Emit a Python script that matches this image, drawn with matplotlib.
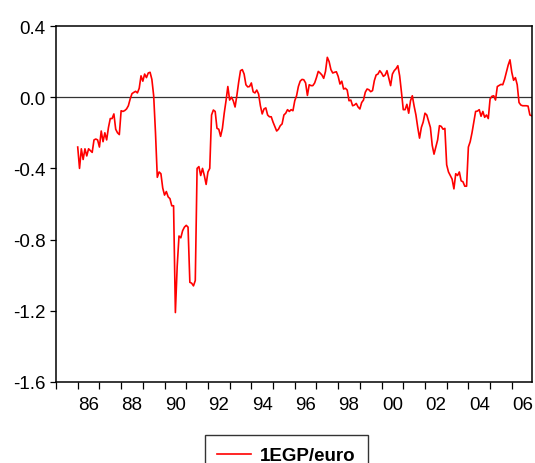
import numpy as np
import matplotlib.pyplot as plt
from matplotlib.ticker import FixedLocator, NullFormatter

plt.rcParams['font.family'] = ['Liberation Sans', 'DejaVu Sans']

# monthly series, 1986M01 - 2006M12
years = list(range(1986, 2007))
v1986 = [-0.28, -0.40, -0.29, -0.35, -0.29, -0.33, -0.29, -0.30, -0.31, -0.24, -0.235, -0.24]
v1987 = [-0.28, -0.19, -0.25, -0.20, -0.24, -0.17, -0.12, -0.12, -0.094, -0.18, -0.20, -0.21]
v1988 = [-0.076, -0.08, -0.075, -0.066, -0.048, -0.01, 0.02, 0.027, 0.033, 0.024, 0.05, 0.12]
v1989 = [0.09, 0.13, 0.11, 0.136, 0.14, 0.10, 0.008, -0.20, -0.45, -0.42, -0.43, -0.51]
v1990 = [-0.55, -0.53, -0.56, -0.57, -0.61, -0.61, -1.21, -0.95, -0.78, -0.79, -0.75, -0.73]
v1991 = [-0.72, -0.73, -1.04, -1.045, -1.06, -1.03, -0.40, -0.39, -0.44, -0.40, -0.44, -0.49]
v1992 = [-0.42, -0.40, -0.10, -0.072, -0.08, -0.175, -0.18, -0.22, -0.175, -0.09, -0.02, 0.06]
v1993 = [-0.016, 0.0, -0.02, -0.055, 0.01, 0.085, 0.149, 0.155, 0.13, 0.07, 0.058, 0.06]
v1994 = [0.08, 0.03, 0.024, 0.04, 0.018, -0.048, -0.094, -0.066, -0.06, -0.10, -0.11, -0.11]
v1995 = [-0.14, -0.165, -0.19, -0.18, -0.16, -0.15, -0.10, -0.09, -0.07, -0.08, -0.07, -0.076]
v1996 = [-0.02, 0.008, 0.06, 0.09, 0.10, 0.098, 0.08, 0.01, 0.07, 0.065, 0.065, 0.08]
v1997 = [0.11, 0.145, 0.136, 0.125, 0.106, 0.145, 0.224, 0.20, 0.155, 0.136, 0.14, 0.143]
v1998 = [0.117, 0.074, 0.09, 0.046, 0.05, 0.04, -0.02, -0.016, -0.048, -0.044, -0.035, -0.055]
v1999 = [-0.066, -0.03, -0.016, 0.028, 0.046, 0.042, 0.031, 0.037, 0.093, 0.125, 0.13, 0.149]
v2000 = [0.136, 0.117, 0.125, 0.149, 0.106, 0.065, 0.13, 0.149, 0.16, 0.177, 0.12, 0.028]
v2001 = [-0.07, -0.07, -0.04, -0.09, -0.02, 0.008, -0.05, -0.10, -0.17, -0.23, -0.17, -0.14]
v2002 = [-0.09, -0.10, -0.135, -0.17, -0.27, -0.32, -0.28, -0.24, -0.16, -0.164, -0.18, -0.175]
v2003 = [-0.38, -0.42, -0.44, -0.46, -0.515, -0.43, -0.44, -0.42, -0.47, -0.475, -0.50, -0.50]
v2004 = [-0.28, -0.25, -0.20, -0.14, -0.08, -0.078, -0.07, -0.107, -0.08, -0.113, -0.10, -0.12]
v2005 = [-0.01, 0.005, 0.008, -0.016, 0.06, 0.066, 0.072, 0.07, 0.10, 0.14, 0.18, 0.21]
v2006 = [0.14, 0.095, 0.11, 0.07, -0.03, -0.044, -0.048, -0.048, -0.048, -0.05, -0.10, -0.104]

values = (v1986 + v1987 + v1988 + v1989 + v1990 + v1991 + v1992 + v1993 + v1994
          + v1995 + v1996 + v1997 + v1998 + v1999 + v2000 + v2001 + v2002 + v2003
          + v2004 + v2005 + v2006)
dates = [y + m / 12 for y in years for m in range(12)]

yticks = [0.4, 0.0, -0.4, -0.8, -1.2, -1.6]
xlabels = ['86', '88', '90', '92', '94', '96', '98', '00', '02', '04', '06']

fig = plt.figure(figsize=(5.35, 4.64), dpi=100)
ax = fig.add_axes([0.1047, 0.1746, 0.8891, 0.7672])

ax.axhline(0, color='#333333', linewidth=0.9, zorder=1)
ax.plot(dates, values, color='red', linewidth=1.2, label='1EGP/euro', zorder=2)

ax.set_xlim(1985.0, 2006 + 11 / 12)
ax.set_ylim(-1.6, 0.4)

# year ticks without labels, labels at mid-year of even years
ax.xaxis.set_major_locator(FixedLocator(range(1985, 2007)))
ax.xaxis.set_major_formatter(NullFormatter())
ax.xaxis.set_minor_locator(FixedLocator([1986.5 + 2 * i for i in range(len(xlabels))]))
ax.set_xticklabels(xlabels, minor=True)
ax.tick_params(axis='x', which='major', direction='out', length=5, width=0.9)
ax.tick_params(axis='x', which='minor', length=0, labelsize=13.5, pad=10)

ax.set_yticks(yticks)
ax.set_yticklabels([f'{t:.1f}' for t in yticks])
ax.tick_params(axis='y', direction='out', length=4.5, width=0.9, labelsize=13.5, pad=3)

for s in ax.spines.values():
    s.set_linewidth(1.1)
    s.set_color('black')

# legend box runs past the lower edge of the figure
leg = fig.legend(loc='upper center', bbox_to_anchor=(0.5355, 0.0603),
                 frameon=True, fancybox=False, edgecolor='black',
                 prop={'weight': 'bold', 'size': 13.5}, handlelength=1.8,
                 borderpad=0.65, handletextpad=0.5, borderaxespad=0)
leg.get_frame().set_linewidth(1.0)

fig.savefig('out.png', dpi=100)
